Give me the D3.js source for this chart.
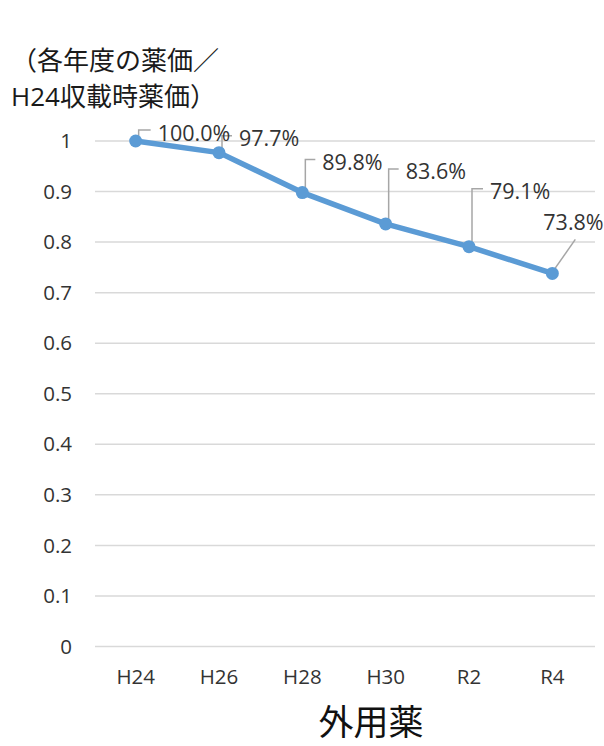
<!DOCTYPE html>
<html>
<head>
<meta charset="utf-8">
<script src="https://cdn.jsdelivr.net/npm/d3@7"></script>
<style>
  html, body { margin: 0; padding: 0; background: #fff; }
  svg { display: block; }
  text { font-family: "Open Sans", "Noto Sans CJK JP", sans-serif; }
</style>
</head>
<body>
<svg id="chart" width="604" height="746"></svg>
<script>
// ---- data ----
const categories = ["H24", "H26", "H28", "H30", "R2", "R4"];
const values = [1.000, 0.977, 0.898, 0.836, 0.791, 0.738];
const valueLabels = ["100.0%", "97.7%", "89.8%", "83.6%", "79.1%", "73.8%"];
const yTicks = [0, 0.1, 0.2, 0.3, 0.4, 0.5, 0.6, 0.7, 0.8, 0.9, 1];
const yTickLabels = ["0", "0.1", "0.2", "0.3", "0.4", "0.5", "0.6", "0.7", "0.8", "0.9", "1"];
const titleLines = ["（各年度の薬価／", "H24収載時薬価）"];
const xTitle = "外用薬";

// label placement (offsets from point, in px): text start dx, text centre dy, leader type
const labelLayout = [
  { dx: 22, dy: -8,  leader: "elbow" },
  { dx: 20, dy: -14, leader: "elbow" },
  { dx: 20, dy: -30, leader: "elbow" },
  { dx: 20, dy: -52, leader: "elbow" },
  { dx: 21, dy: -55, leader: "elbow" },
  { dx: -9, dy: -51, leader: "diag" }
];

const svg = d3.select("#chart");
const color = "#5B9BD5";

const x = d3.scaleBand().domain(categories).range([94, 594]);
const y = d3.scaleLinear().domain([0, 1]).range([646.5, 141]);

// gridlines
svg.append("g").selectAll("line").data(yTicks).join("line")
  .attr("x1", 95).attr("x2", 595)
  .attr("y1", d => y(d)).attr("y2", d => y(d))
  .attr("stroke", "#d9d9d9").attr("stroke-width", 1.5);

// y tick labels
svg.append("g").selectAll("text").data(yTicks).join("text")
  .attr("x", 72).attr("y", d => y(d))
  .attr("dy", "0.35em")
  .attr("text-anchor", "end")
  .attr("font-size", 20.5)
  .attr("fill", "#333")
  .text((d, i) => yTickLabels[i]);

// x tick labels
svg.append("g").selectAll("text").data(categories).join("text")
  .attr("x", d => x(d) + x.bandwidth() / 2).attr("y", 677)
  .attr("dy", "0.35em")
  .attr("text-anchor", "middle")
  .attr("font-size", 20.5)
  .attr("fill", "#333")
  .text(d => d);

const pts = categories.map((c, i) => ({ c, v: values[i], lab: valueLabels[i], lay: labelLayout[i],
  px: x(c) + x.bandwidth() / 2, py: y(values[i]) }));

// leader lines
svg.append("g").selectAll("path").data(pts).join("path")
  .attr("fill", "none")
  .attr("stroke", "#a6a6a6")
  .attr("stroke-width", 1.5)
  .attr("d", d => {
    const ty = d.py + d.lay.dy;
    if (d.lay.leader === "diag") {
      return `M${d.px + 2},${d.py - 4} L${d.px + 23},${ty + 17}`;
    }
    const lx = d.px + 3;
    return `M${lx},${d.py - 3} L${lx},${ty - 3} L${d.px + d.lay.dx - 7},${ty - 3}`;
  });

// line
svg.append("path").datum(pts)
  .attr("fill", "none")
  .attr("stroke", color)
  .attr("stroke-width", 5.5)
  .attr("stroke-linejoin", "round")
  .attr("d", d3.line().x(d => d.px).y(d => d.py));

// markers
svg.append("g").selectAll("circle").data(pts).join("circle")
  .attr("cx", d => d.px).attr("cy", d => d.py)
  .attr("r", 6.5).attr("fill", color);

// data labels
svg.append("g").selectAll("text").data(pts).join("text")
  .attr("x", d => d.px + d.lay.dx)
  .attr("y", d => d.py + d.lay.dy)
  .attr("dy", "0.35em")
  .attr("font-size", 21.5)
  .attr("fill", "#333")
  .text(d => d.lab);

// title lines
svg.append("g").selectAll("text").data(titleLines).join("text")
  .attr("x", 11).attr("y", (d, i) => 70 + i * 36)
  .attr("font-size", 26)
  .attr("fill", "#1a1a1a")
  .text(d => d);

// x axis title
svg.append("text")
  .attr("x", 371).attr("y", 735)
  .attr("text-anchor", "middle")
  .attr("font-size", 35)
  .attr("fill", "#111")
  .text(xTitle);
</script>
</body>
</html>
